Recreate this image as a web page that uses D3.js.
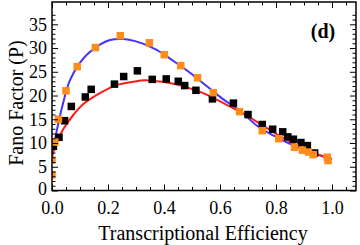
<!DOCTYPE html>
<html><head><meta charset="utf-8">
<script src="https://cdn.jsdelivr.net/npm/d3@7"></script>
<style>
html,body{margin:0;padding:0;background:#fff;}
svg{display:block;}
</style></head>
<body>
<svg id="chart" width="360" height="245"></svg>
<script>
// ---- data ----
const blueCurveX = [0, 0.008, 0.017, 0.04, 0.064, 0.112, 0.171, 0.207, 0.255, 0.30, 0.35, 0.374, 0.433, 0.493, 0.552, 0.612, 0.671, 0.731, 0.79, 0.85, 0.91, 0.97, 1.0];
const blueCurveY = [7.0, 9.8, 12.6, 18.5, 23.2, 27.8, 30.7, 31.7, 31.9, 31.4, 30.3, 29.6, 27.3, 24.8, 22.0, 19.2, 16.8, 13.7, 11.6, 9.8, 8.3, 7.15, 6.6];
const redCurveX = [0, 0.017, 0.04, 0.076, 0.112, 0.171, 0.231, 0.29, 0.33, 0.374, 0.433, 0.493, 0.552, 0.612, 0.671, 0.731, 0.79, 0.85, 0.91, 0.97, 1.0];
const redCurveY = [7.3, 10.0, 12.9, 15.9, 18.2, 20.5, 22.2, 22.9, 23.2, 23.0, 22.5, 21.5, 20.2, 18.4, 16.6, 14.5, 12.3, 10.3, 8.5, 7.15, 6.6];

const orangeX = [0.0, 0.0, 0.01, 0.023, 0.05, 0.09, 0.155, 0.244, 0.348, 0.401, 0.46, 0.52, 0.576, 0.67, 0.751, 0.81, 0.866, 0.894, 0.916, 0.933, 0.983, 0.986];
const orangeY = [3.3, 6.4, 10.2, 15.0, 21.0, 26.1, 30.1, 32.6, 31.1, 28.6, 26.3, 23.75, 20.6, 16.6, 12.6, 10.9, 9.1, 8.5, 8.1, 7.55, 7.0, 6.3];

const blackX = [0.005, 0.025, 0.045, 0.069, 0.119, 0.14, 0.223, 0.256, 0.305, 0.358, 0.408, 0.451, 0.474, 0.514, 0.573, 0.648, 0.70, 0.751, 0.788, 0.824, 0.842, 0.862, 0.889, 0.912, 0.938];
const blackY = [9.3, 11.2, 14.7, 17.7, 19.7, 21.3, 22.4, 24.0, 25.2, 23.4, 23.5, 23.0, 22.1, 21.1, 19.3, 18.4, 16.0, 13.9, 12.9, 12.35, 11.3, 10.8, 10.1, 9.45, 7.9];

const xTicks = [0, 0.2, 0.4, 0.6, 0.8, 1.0];
const yTicks = [0, 5, 10, 15, 20, 25, 30, 35];
const xLabel = "Transcriptional Efficiency";
const yLabel = "Fano Factor (P)";
const panelLabel = "(d)";

// ---- layout ----
const svg = d3.select("#chart");
const L = 52, R = 356, T = 2, B = 190.5;
const x = d3.scaleLinear().domain([0, (R - L) / 280]).range([L, R]);
const y = d3.scaleLinear().domain([0, 35]).range([B, 13.5]);
y.domain([0, y.invert(T)]);

const font = "'Liberation Serif','Times New Roman',serif";

svg.append("clipPath").attr("id", "clip").append("rect")
  .attr("x", L).attr("y", T).attr("width", R - L).attr("height", B - T);

const plot = svg.append("g").attr("clip-path", "url(#clip)");

const line = d3.line().x(d => x(d[0])).y(d => y(d[1])).curve(d3.curveCatmullRom);
plot.append("path").datum(blueCurveX.map((v, i) => [v, blueCurveY[i]]))
  .attr("d", line).attr("fill", "none").attr("stroke", "#4433ff").attr("stroke-width", 2);
plot.append("path").datum(redCurveX.map((v, i) => [v, redCurveY[i]]))
  .attr("d", line).attr("fill", "none").attr("stroke", "#ff1a1a").attr("stroke-width", 2);

const s = 7.5;
plot.selectAll(".blk").data(blackX.map((v, i) => [v, blackY[i]])).join("rect")
  .attr("x", d => x(d[0]) - s / 2).attr("y", d => y(d[1]) - s / 2)
  .attr("width", s).attr("height", s).attr("fill", "#000");
plot.selectAll(".org").data(orangeX.map((v, i) => [v, orangeY[i]])).join("rect")
  .attr("x", d => x(d[0]) - s / 2).attr("y", d => y(d[1]) - s / 2)
  .attr("width", s).attr("height", s).attr("fill", "#ff8c1a");

// ---- axes / frame ----
const xMinor = d3.range(0, 1.09, 0.05).filter(v => Math.abs(v * 5 - Math.round(v * 5)) > 1e-6);
const yMinor = d3.range(0, 38, 1).filter(v => v % 5 !== 0);

function styleAxis(g) {
  g.selectAll(".domain").remove();
  g.selectAll(".tick line").attr("stroke", "#000").attr("stroke-width", 1);
  g.selectAll("text").attr("font-family", font).attr("font-size", 18).attr("fill", "#000");
}

// bottom
svg.append("g").attr("transform", `translate(0,${B})`)
  .call(d3.axisBottom(x).tickValues(xTicks).tickFormat(d3.format(".1f")).tickSize(-6).tickPadding(11))
  .call(styleAxis);
svg.append("g").attr("transform", `translate(0,${B})`)
  .call(d3.axisBottom(x).tickValues(xMinor).tickFormat("").tickSize(-3.5)).call(styleAxis);
// top
svg.append("g").attr("transform", `translate(0,${T})`)
  .call(d3.axisTop(x).tickValues(xTicks).tickFormat("").tickSize(-6)).call(styleAxis);
svg.append("g").attr("transform", `translate(0,${T})`)
  .call(d3.axisTop(x).tickValues(xMinor).tickFormat("").tickSize(-3.5)).call(styleAxis);
// left
const yAx = svg.append("g").attr("transform", `translate(${L},0)`)
  .call(d3.axisLeft(y).tickValues(yTicks).tickFormat(d3.format("d")).tickSize(-6).tickPadding(5))
  .call(styleAxis);
yAx.selectAll(".tick text").filter(d => d === 0).attr("dy", "0.2em");
svg.append("g").attr("transform", `translate(${L},0)`)
  .call(d3.axisLeft(y).tickValues(yMinor).tickFormat("").tickSize(-3.5)).call(styleAxis);
// right
svg.append("g").attr("transform", `translate(${R},0)`)
  .call(d3.axisRight(y).tickValues(yTicks).tickFormat("").tickSize(-6)).call(styleAxis);
svg.append("g").attr("transform", `translate(${R},0)`)
  .call(d3.axisRight(y).tickValues(yMinor).tickFormat("").tickSize(-3.5)).call(styleAxis);

svg.append("rect").attr("x", L).attr("y", T).attr("width", R - L).attr("height", B - T)
  .attr("fill", "none").attr("stroke", "#000").attr("stroke-width", 1.5);

// labels
svg.append("text").attr("x", 203).attr("y", 240).attr("text-anchor", "middle")
  .attr("font-family", font).attr("font-size", 20).text(xLabel);
svg.append("text").attr("transform", "translate(23,103) rotate(-90)").attr("text-anchor", "middle")
  .attr("font-family", font).attr("font-size", 20).text(yLabel);
svg.append("text").attr("x", 323).attr("y", 38).attr("text-anchor", "middle")
  .attr("font-family", font).attr("font-size", 20).attr("font-weight", "bold").text(panelLabel);
</script>
</body></html>
